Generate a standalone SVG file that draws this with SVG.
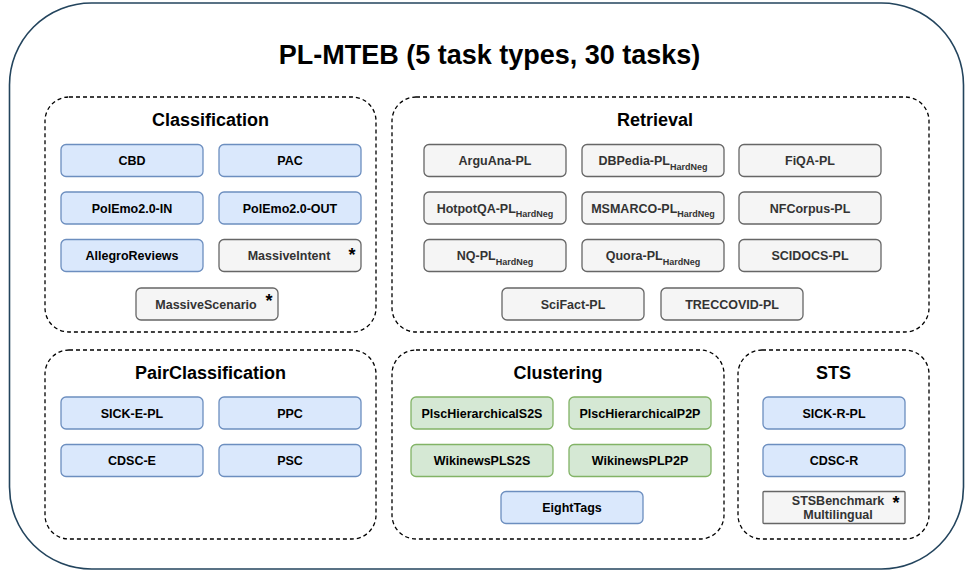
<svg xmlns="http://www.w3.org/2000/svg" width="965" height="574" viewBox="0 0 965 574">
<style>
text{font-family:"Liberation Sans",Arial,Helvetica,sans-serif;font-weight:bold;text-anchor:middle}
.title{font-size:27px;fill:#000}
.sec{font-size:18px;fill:#000}
.group{fill:none;stroke:#000;stroke-width:1.3;stroke-dasharray:4 3}
.blue rect{fill:#dae8fc;stroke:#6c8ebf;stroke-width:1.3}
.gray rect{fill:#f5f5f5;stroke:#666666;stroke-width:1.3}
.green rect{fill:#d5e8d4;stroke:#82b366;stroke-width:1.3}
.n{font-size:12.5px;fill:#000}
.gray .n{fill:#333333}
.sub{font-size:9px}
.ast{font-size:18px;fill:#000}
</style>
<rect id="outer" x="9.5" y="3" width="954" height="566" rx="82" ry="82" fill="#ffffff" stroke="#23445d" stroke-width="1.6"/>
<text class="title" x="489.5" y="64">PL-MTEB (5 task types, 30 tasks)</text>

<g id="grp-classification">
<rect class="group" x="45" y="97" width="331" height="235" rx="24"/>
<text class="sec" x="210.5" y="126">Classification</text>
</g>
<g id="grp-retrieval">
<rect class="group" x="392" y="97" width="537" height="235" rx="24"/>
<text class="sec" x="655" y="126">Retrieval</text>
</g>
<g id="grp-pair">
<rect class="group" x="45" y="350" width="331" height="189" rx="24"/>
<text class="sec" x="210.5" y="379">PairClassification</text>
</g>
<g id="grp-clustering">
<rect class="group" x="392" y="350" width="332" height="189" rx="24"/>
<text class="sec" x="558" y="379">Clustering</text>
</g>
<g id="grp-sts">
<rect class="group" x="738" y="350" width="191" height="189" rx="24"/>
<text class="sec" x="833.5" y="379">STS</text>
</g>

<g id="n-cbd" class="blue"><rect x="61" y="144.5" width="142" height="32" rx="5"/><text class="n" x="132" y="165">CBD</text></g>
<g id="n-pac" class="blue"><rect x="219" y="144.5" width="142" height="32" rx="5"/><text class="n" x="290" y="165">PAC</text></g>
<g id="n-polemo-in" class="blue"><rect x="61" y="192" width="142" height="32" rx="5"/><text class="n" x="132" y="212.5">PolEmo2.0-IN</text></g>
<g id="n-polemo-out" class="blue"><rect x="219" y="192" width="142" height="32" rx="5"/><text class="n" x="290" y="212.5">PolEmo2.0-OUT</text></g>
<g id="n-allegro" class="blue"><rect x="61" y="239.5" width="142" height="32" rx="5"/><text class="n" x="132" y="260">AllegroReviews</text></g>
<g id="n-massiveintent" class="gray"><rect x="219" y="239.5" width="142" height="32" rx="5"/><text class="n" x="289" y="260">MassiveIntent</text><text class="ast" x="352" y="261">*</text></g>
<g id="n-massivescenario" class="gray"><rect x="136" y="288" width="142" height="32" rx="5"/><text class="n" x="206" y="308.5">MassiveScenario</text><text class="ast" x="269" y="307">*</text></g>

<g id="n-arguana" class="gray"><rect x="424" y="144.5" width="142" height="32" rx="5"/><text class="n" x="495" y="165">ArguAna-PL</text></g>
<g id="n-dbpedia" class="gray"><rect x="582" y="144.5" width="142" height="32" rx="5"/><text class="n" x="653" y="165">DBPedia-PL<tspan class="sub" dy="4.5">HardNeg</tspan></text></g>
<g id="n-fiqa" class="gray"><rect x="739" y="144.5" width="142" height="32" rx="5"/><text class="n" x="810" y="165">FiQA-PL</text></g>
<g id="n-hotpotqa" class="gray"><rect x="424" y="192" width="142" height="32" rx="5"/><text class="n" x="495" y="212.5">HotpotQA-PL<tspan class="sub" dy="4.5">HardNeg</tspan></text></g>
<g id="n-msmarco" class="gray"><rect x="582" y="192" width="142" height="32" rx="5"/><text class="n" x="653" y="212.5">MSMARCO-PL<tspan class="sub" dy="4.5">HardNeg</tspan></text></g>
<g id="n-nfcorpus" class="gray"><rect x="739" y="192" width="142" height="32" rx="5"/><text class="n" x="810" y="212.5">NFCorpus-PL</text></g>
<g id="n-nq" class="gray"><rect x="424" y="239.5" width="142" height="32" rx="5"/><text class="n" x="495" y="260">NQ-PL<tspan class="sub" dy="4.5">HardNeg</tspan></text></g>
<g id="n-quora" class="gray"><rect x="582" y="239.5" width="142" height="32" rx="5"/><text class="n" x="653" y="260">Quora-PL<tspan class="sub" dy="4.5">HardNeg</tspan></text></g>
<g id="n-scidocs" class="gray"><rect x="739" y="239.5" width="142" height="32" rx="5"/><text class="n" x="810" y="260">SCIDOCS-PL</text></g>
<g id="n-scifact" class="gray"><rect x="502" y="288" width="142" height="32" rx="5"/><text class="n" x="573" y="308.5">SciFact-PL</text></g>
<g id="n-treccovid" class="gray"><rect x="661" y="288" width="142" height="32" rx="5"/><text class="n" x="732" y="308.5">TRECCOVID-PL</text></g>

<g id="n-sick-e" class="blue"><rect x="61" y="397" width="142" height="32" rx="5"/><text class="n" x="132" y="417.5">SICK-E-PL</text></g>
<g id="n-ppc" class="blue"><rect x="219" y="397" width="142" height="32" rx="5"/><text class="n" x="290" y="417.5">PPC</text></g>
<g id="n-cdsc-e" class="blue"><rect x="61" y="444.5" width="142" height="32" rx="5"/><text class="n" x="132" y="465">CDSC-E</text></g>
<g id="n-psc" class="blue"><rect x="219" y="444.5" width="142" height="32" rx="5"/><text class="n" x="290" y="465">PSC</text></g>

<g id="n-plsc-s2s" class="green"><rect x="411" y="397" width="142" height="32" rx="5"/><text class="n" x="482" y="417.5">PlscHierarchicalS2S</text></g>
<g id="n-plsc-p2p" class="green"><rect x="569" y="397" width="142" height="32" rx="5"/><text class="n" x="640" y="417.5">PlscHierarchicalP2P</text></g>
<g id="n-wiki-s2s" class="green"><rect x="411" y="444.5" width="142" height="32" rx="5"/><text class="n" x="482" y="465">WikinewsPLS2S</text></g>
<g id="n-wiki-p2p" class="green"><rect x="569" y="444.5" width="142" height="32" rx="5"/><text class="n" x="640" y="465">WikinewsPLP2P</text></g>
<g id="n-eighttags" class="blue"><rect x="501" y="491.5" width="142" height="32" rx="5"/><text class="n" x="572" y="512">EightTags</text></g>

<g id="n-sick-r" class="blue"><rect x="763" y="397" width="142" height="32" rx="5"/><text class="n" x="834" y="417.5">SICK-R-PL</text></g>
<g id="n-cdsc-r" class="blue"><rect x="763" y="444.5" width="142" height="32" rx="5"/><text class="n" x="834" y="465">CDSC-R</text></g>
<g id="n-stsbenchmark" class="gray"><rect x="763" y="491.5" width="142" height="32" rx="1"/><text class="n" x="838" y="505">STSBenchmark</text><text class="n" x="838" y="519">Multilingual</text><text class="ast" x="896" y="509">*</text></g>

<g id="connectors"/>
</svg>
